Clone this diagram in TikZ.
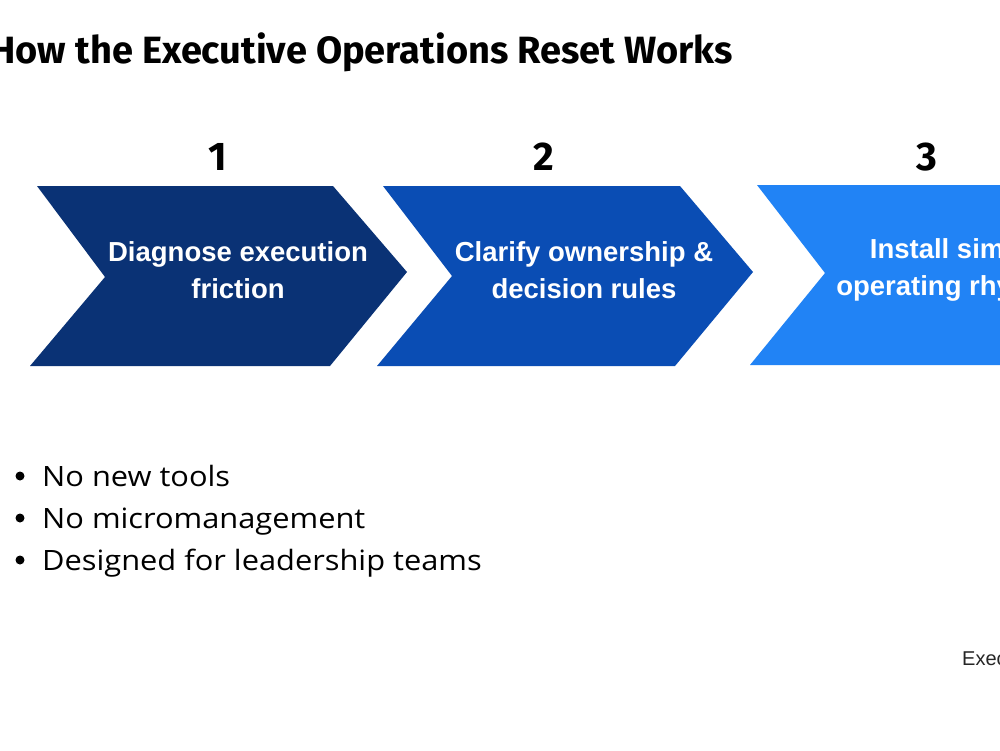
\documentclass[tikz,border=0pt]{standalone}
\usepackage{fontspec}
\setmainfont{Open Sans}
\newfontfamily\titlefont{Fira Sans}
\newfontfamily\boxfont{Liberation Sans}
\newfontfamily\bulletfont{Open Sans}[FakeStretch=1.1]
\newfontfamily\footfont{Liberation Sans}
\definecolor{navyblue}{HTML}{0A3275}
\definecolor{midblue}{HTML}{0A4DB4}
\definecolor{brightblue}{HTML}{2183F5}
\tikzset{
  boxtext/.style={text=white, font=\boxfont\bfseries\fontsize{27.5}{37}\selectfont, align=center, inner sep=0pt},
  numtext/.style={font=\titlefont\bfseries\fontsize{40}{48}\selectfont, anchor=base, inner sep=0pt},
  bullettext/.style={font=\bulletfont\fontsize{28}{32}\selectfont, anchor=base west, inner sep=0pt},
}
\begin{document}
\begin{tikzpicture}[x=1pt,y=-1pt]
\useasboundingbox (0,0) rectangle (1000,750);
\clip (0,0) rectangle (1000,750);
\fill[white] (0,0) rectangle (1000,750);
% title
\node[font=\titlefont\bfseries\fontsize{38}{44}\selectfont, anchor=base east, inner sep=0pt] (title) at (733,63) {How the Executive Operations Reset Works};
% numbers
\node[numtext] (n1) at (218,170) {1};
\node[numtext] (n2) at (544,170) {2};
\node[numtext] (n3) at (927,170) {3};
% chevrons
\fill[navyblue] (37,186) -- (333,186) -- (407,272) -- (330,366) -- (30,366) -- (105,277) -- cycle;
\fill[midblue] (383,186) -- (680,186) -- (753,272) -- (675,366) -- (377,366) -- (452,276) -- cycle;
\fill[brightblue] (757,185) -- (1100,185) -- (1100,365) -- (750,365) -- (825,273) -- cycle;
\node[boxtext] (t1) at (238,270) {Diagnose execution\\friction};
\node[boxtext] (t2) at (584,270) {Clarify ownership \&\\decision rules};
\node[boxtext] (t3) at (957,270) {Install simple\\operating rhythms};
% bullets
\fill (20,476) circle (4.5);
\fill (20,518) circle (4.5);
\fill (20,560) circle (4.5);
\node[bullettext] (b1) at (42,486) {No new tools};
\node[bullettext] (b2) at (42,528) {No micromanagement};
\node[bullettext] (b3) at (42,570) {Designed for leadership teams};
% footer
\node[font=\footfont\fontsize{20}{24}\selectfont, anchor=base west, inner sep=0pt, text=black!85] (foot) at (962,665) {Executive Operations Reset};
\end{tikzpicture}
\end{document}
